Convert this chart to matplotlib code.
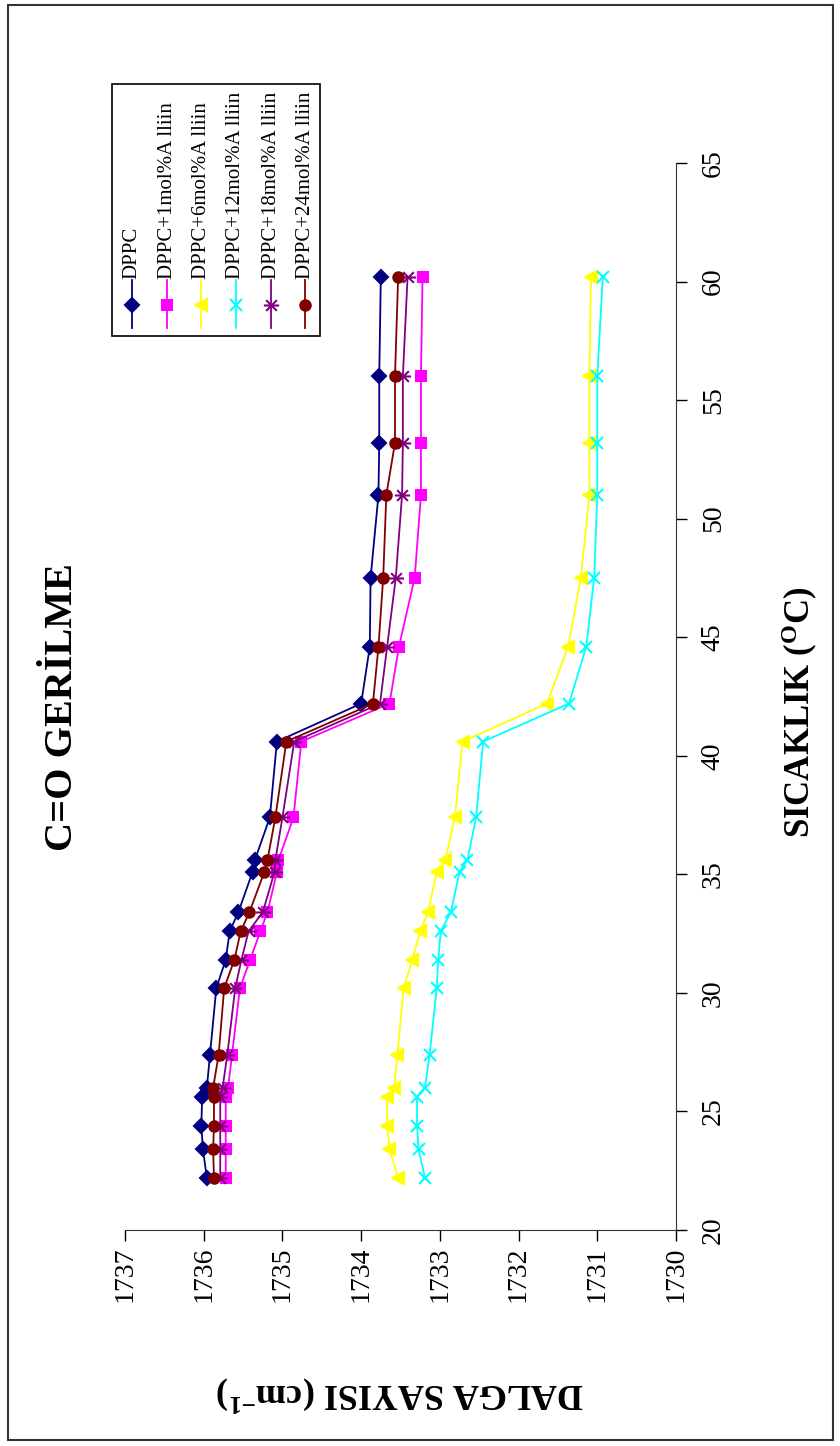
import numpy as np
import matplotlib
matplotlib.use("Agg")
import matplotlib.pyplot as plt
from matplotlib.path import Path
from matplotlib.lines import Line2D
from matplotlib.patches import Rectangle

plt.rcParams['font.family'] = ['Liberation Serif', 'DejaVu Serif']
plt.rcParams['mathtext.fontset'] = 'custom'
plt.rcParams['mathtext.rm'] = 'Liberation Serif'
plt.rcParams['mathtext.bf'] = 'Liberation Serif:bold'

# data (temperature in C, wavenumber in cm-1)
temp = [22.2, 23.4, 24.4, 25.6, 26.0, 27.4, 30.2, 31.4, 32.6, 33.4, 35.1,
        35.6, 37.4, 40.6, 42.2, 44.6, 47.5, 51.0, 53.2, 56.0, 60.2]

dppc = [1735.96, 1736.01, 1736.03, 1736.02, 1735.96, 1735.92, 1735.84, 1735.72,
        1735.67, 1735.56, 1735.38, 1735.35, 1735.16, 1735.07, 1734.00, 1733.89,
        1733.88, 1733.78, 1733.77, 1733.77, 1733.75]
alliin1 = [1735.72, 1735.72, 1735.72, 1735.72, 1735.69, 1735.64, 1735.54, 1735.41,
           1735.28, 1735.19, 1735.07, 1735.05, 1734.86, 1734.76, 1733.64, 1733.52,
           1733.32, 1733.24, 1733.24, 1733.24, 1733.22]
alliin6 = [1733.53, 1733.64, 1733.67, 1733.67, 1733.58, 1733.54, 1733.46, 1733.35,
           1733.25, 1733.15, 1733.04, 1732.93, 1732.81, 1732.71, 1731.64, 1731.37,
           1731.21, 1731.10, 1731.10, 1731.10, 1731.08]
alliin12 = [1733.19, 1733.27, 1733.29, 1733.29, 1733.19, 1733.13, 1733.04, 1733.02,
            1732.99, 1732.86, 1732.75, 1732.65, 1732.54, 1732.45, 1731.36, 1731.14,
            1731.04, 1731.00, 1731.00, 1731.00, 1730.93]
alliin18 = [1735.79, 1735.79, 1735.79, 1735.79, 1735.76, 1735.70, 1735.60, 1735.52,
            1735.43, 1735.25, 1735.10, 1735.09, 1735.00, 1734.85, 1733.76, 1733.67,
            1733.56, 1733.48, 1733.47, 1733.47, 1733.41]
alliin24 = [1735.87, 1735.88, 1735.87, 1735.87, 1735.88, 1735.81, 1735.74, 1735.61,
            1735.53, 1735.42, 1735.23, 1735.19, 1735.09, 1734.95, 1733.85, 1733.78,
            1733.72, 1733.68, 1733.57, 1733.57, 1733.53]

labels = ['DPPC', 'DPPC+1mol%A lliin', 'DPPC+6mol%A lliin', 'DPPC+12mol%A lliin',
          'DPPC+18mol%A lliin', 'DPPC+24mol%A lliin']
temp_ticks = [20, 25, 30, 35, 40, 45, 50, 55, 60, 65]
wn_ticks = [1737, 1736, 1735, 1734, 1733, 1732, 1731, 1730]

# excel star marker, turned on its side
star = Path([(-1, 0), (1, 0), (-0.7, -0.7), (0.7, 0.7), (-0.7, 0.7), (0.7, -0.7)],
            [Path.MOVETO, Path.LINETO] * 3)

series = [
    (dppc, '#000080', 'D', 7),
    (alliin1, '#FF00FF', 's', 7),
    (alliin6, '#FFFF00', '<', 8),
    (alliin12, '#00FFFF', 'x', 8),
    (alliin18, '#800080', star, 11),
    (alliin24, '#800000', 'o', 7.5),
]

W, H = 840, 1446
fig = plt.figure(figsize=(W / 100, H / 100), dpi=100)

def fx(px):
    return px / W

def fy(py):
    return 1 - py / H

# the whole chart is turned 90 degrees: temperature runs upward
ax = fig.add_axes([fx(125), fy(1230), fx(676) - fx(125), fy(163) - fy(1230)])
for vals, col, mk, ms in series:
    ax.plot(vals, temp, color=col, lw=1.3, marker=mk, ms=ms, mfc=col, mec=col,
            mew=1.5, clip_on=False)

ax.set_xlim(1737, 1730)
ax.set_ylim(20, 65)
ax.set_xticks(wn_ticks)
ax.set_yticks(temp_ticks)
ax.spines['left'].set_visible(False)
ax.spines['top'].set_visible(False)
ax.spines['right'].set_color('#333333')
ax.spines['bottom'].set_color('#333333')
ax.yaxis.tick_right()
ax.tick_params(axis='x', direction='out', length=8, width=1, labelsize=20,
               labelrotation=90, pad=4)
ax.tick_params(axis='y', direction='out', length=8, width=1, labelsize=20,
               labelrotation=90, pad=10)
for t in ax.get_yticklabels():
    t.set_verticalalignment('center')

# titles
fig.text(fx(62), fy(707), 'C=O GERİLME', rotation=90, ha='center', va='center',
         fontsize=29, fontweight='bold')
fig.text(fx(800), fy(712), r'SICAKLIK ($\mathbf{^{O}}$C)', rotation=90,
         ha='center', va='center', fontsize=25, fontweight='bold')
fig.text(fx(400), fy(1393), r'DALGA SAYISI (cm$\mathbf{^{-1}}$)', rotation=180,
         ha='center', va='center', fontsize=26, fontweight='bold')

# legend drawn by hand, rotated like the chart
fig.add_artist(Rectangle((fx(112), fy(336)), fx(320) - fx(112), fy(84) - fy(336),
                         transform=fig.transFigure, fill=False, ec='black', lw=1.2))
leg_x = [132, 167, 201, 236, 271, 305]
for (vals, col, mk, ms), lab, lx in zip(series, labels, leg_x):
    fig.add_artist(Line2D([fx(lx), fx(lx)], [fy(280), fy(328)], color=col, lw=1.3,
                          transform=fig.transFigure))
    fig.add_artist(Line2D([fx(lx)], [fy(305)], color=col, marker=mk, ms=ms, mfc=col,
                          mec=col, mew=1.5, transform=fig.transFigure))
    fig.text(fx(lx), fy(279), lab, rotation=90, rotation_mode='anchor',
             ha='left', va='center', fontsize=15)

# outer frame
fig.add_artist(Rectangle((fx(8), fy(1440)), fx(833) - fx(8), fy(5) - fy(1440),
                         transform=fig.transFigure, fill=False, ec='#333333', lw=1.5))

plt.savefig('out.png', dpi=100)
